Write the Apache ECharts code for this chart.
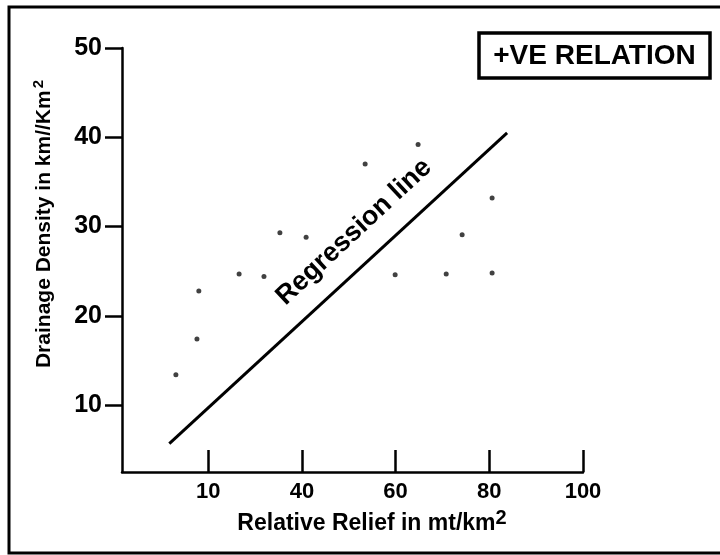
<!DOCTYPE html>
<html>
<head>
<meta charset="utf-8">
<style>
  html, body { margin: 0; padding: 0; background: #fff; }
  #chart { width: 720px; height: 555px; }
</style>
<script src="https://cdn.jsdelivr.net/npm/echarts@6/dist/echarts.min.js"></script>
</head>
<body>
<div id="chart"></div>
<script>
// Sample points: relative relief (mt/km²) vs drainage density (km/km²)
const relief  = [13.1, 17.6, 18.0, 26.6, 31.9, 35.3, 40.9, 53.5, 64.8, 59.9, 70.8, 80.6, 80.6, 74.2];
const density = [13.4, 17.4, 22.8, 24.7, 24.4, 29.3, 28.8, 37.0, 39.2, 24.6, 24.7, 24.8, 33.2, 29.1];

// Fitted regression line end points
const regRelief  = [11.7, 83.8];
const regDensity = [5.7, 40.5];

// Axis ticks and the labels printed under them
const xTickValues = [20, 40, 60, 80, 100];
const xTickLabels = ['10', '40', '60', '80', '100'];
const yTickValues = [10, 20, 30, 40, 50];
const yTickLabels = ['10', '20', '30', '40', '50'];

const FONT = "'Liberation Sans', Arial, Helvetica, sans-serif";

const chart = echarts.init(document.getElementById('chart'), null, { renderer: 'canvas' });

const scatterData = relief.map((x, i) => [x, density[i]]);
const lineData = regRelief.map((x, i) => [x, regDensity[i]]);

chart.setOption({
  backgroundColor: '#ffffff',
  animation: false,
  grid: {
    left: 122, right: 137, top: 48, bottom: 83,
    containLabel: false,
    outerBoundsMode: 'none'
  },
  xAxis: {
    type: 'value',
    min: 1.6,
    max: 100,
    splitLine: { show: false },
    axisLine: { show: true, onZero: false, lineStyle: { color: '#000', width: 2.5 } },
    axisTick: {
      show: true, inside: true, length: 22,
      customValues: xTickValues,
      lineStyle: { color: '#000', width: 2.5 }
    },
    axisLabel: {
      show: true,
      customValues: xTickValues,
      margin: 9,
      color: '#000',
      fontFamily: FONT,
      fontWeight: 'bold',
      fontSize: 22,
      formatter: v => xTickLabels[xTickValues.indexOf(v)] ?? ''
    }
  },
  yAxis: {
    type: 'value',
    min: 2.52,
    max: 50,
    splitLine: { show: false },
    axisLine: { show: true, onZero: false, lineStyle: { color: '#000', width: 2.5 } },
    axisTick: {
      show: true, inside: false, length: 17,
      customValues: yTickValues,
      lineStyle: { color: '#000', width: 2.5 }
    },
    axisLabel: {
      show: true,
      customValues: yTickValues,
      margin: 20,
      color: '#000',
      fontFamily: FONT,
      fontWeight: 'bold',
      fontSize: 25,
      formatter: v => yTickLabels[yTickValues.indexOf(v)] ?? ''
    }
  },
  series: [
    {
      type: 'scatter',
      data: scatterData,
      symbol: 'circle',
      symbolSize: 5,
      itemStyle: { color: '#111' },
      z: 3
    },
    {
      type: 'line',
      data: lineData,
      symbol: 'none',
      lineStyle: { color: '#000', width: 3 },
      z: 4
    }
  ],
  graphic: [
    // outer frame
    {
      type: 'rect',
      shape: { x: 9, y: 7, width: 716, height: 546 },
      style: { fill: 'none', stroke: '#000', lineWidth: 3 },
      silent: true
    },
    // relation badge
    {
      type: 'rect',
      shape: { x: 479, y: 33, width: 231, height: 45 },
      style: { fill: '#fff', stroke: '#000', lineWidth: 3.5 },
      silent: true
    },
    {
      type: 'text',
      x: 594.5, y: 56,
      style: {
        text: '+VE RELATION',
        fill: '#000',
        font: "bold 28px " + FONT,
        align: 'center',
        verticalAlign: 'middle'
      },
      silent: true
    },
    // label along the fitted line
    {
      type: 'text',
      x: 354, y: 232,
      rotation: 43 * Math.PI / 180,
      style: {
        text: 'Regression line',
        fill: '#000',
        font: "bold 27px " + FONT,
        align: 'center',
        verticalAlign: 'middle'
      },
      silent: true
    },
    // x-axis title
    {
      type: 'text',
      x: 372, y: 524,
      style: {
        text: '{b|Relative Relief in mt/km}{s|2}',
        align: 'center',
        verticalAlign: 'middle',
        rich: {
          b: { fill: '#000', fontFamily: FONT, fontWeight: 'bold', fontSize: 23 },
          s: { fill: '#000', fontFamily: FONT, fontWeight: 'bold', fontSize: 20, verticalAlign: 'top', padding: [0, 0, 12, 0] }
        }
      },
      silent: true
    },
    // y-axis title
    {
      type: 'text',
      x: 44, y: 224,
      rotation: Math.PI / 2,
      style: {
        text: '{b|Drainage Density in km//Km}{s|2}',
        align: 'center',
        verticalAlign: 'middle',
        rich: {
          b: { fill: '#000', fontFamily: FONT, fontWeight: 'bold', fontSize: 21 },
          s: { fill: '#000', fontFamily: FONT, fontWeight: 'bold', fontSize: 15, verticalAlign: 'top', padding: [0, 0, 10, 2] }
        }
      },
      silent: true
    }
  ]
});
</script>
</body>
</html>
